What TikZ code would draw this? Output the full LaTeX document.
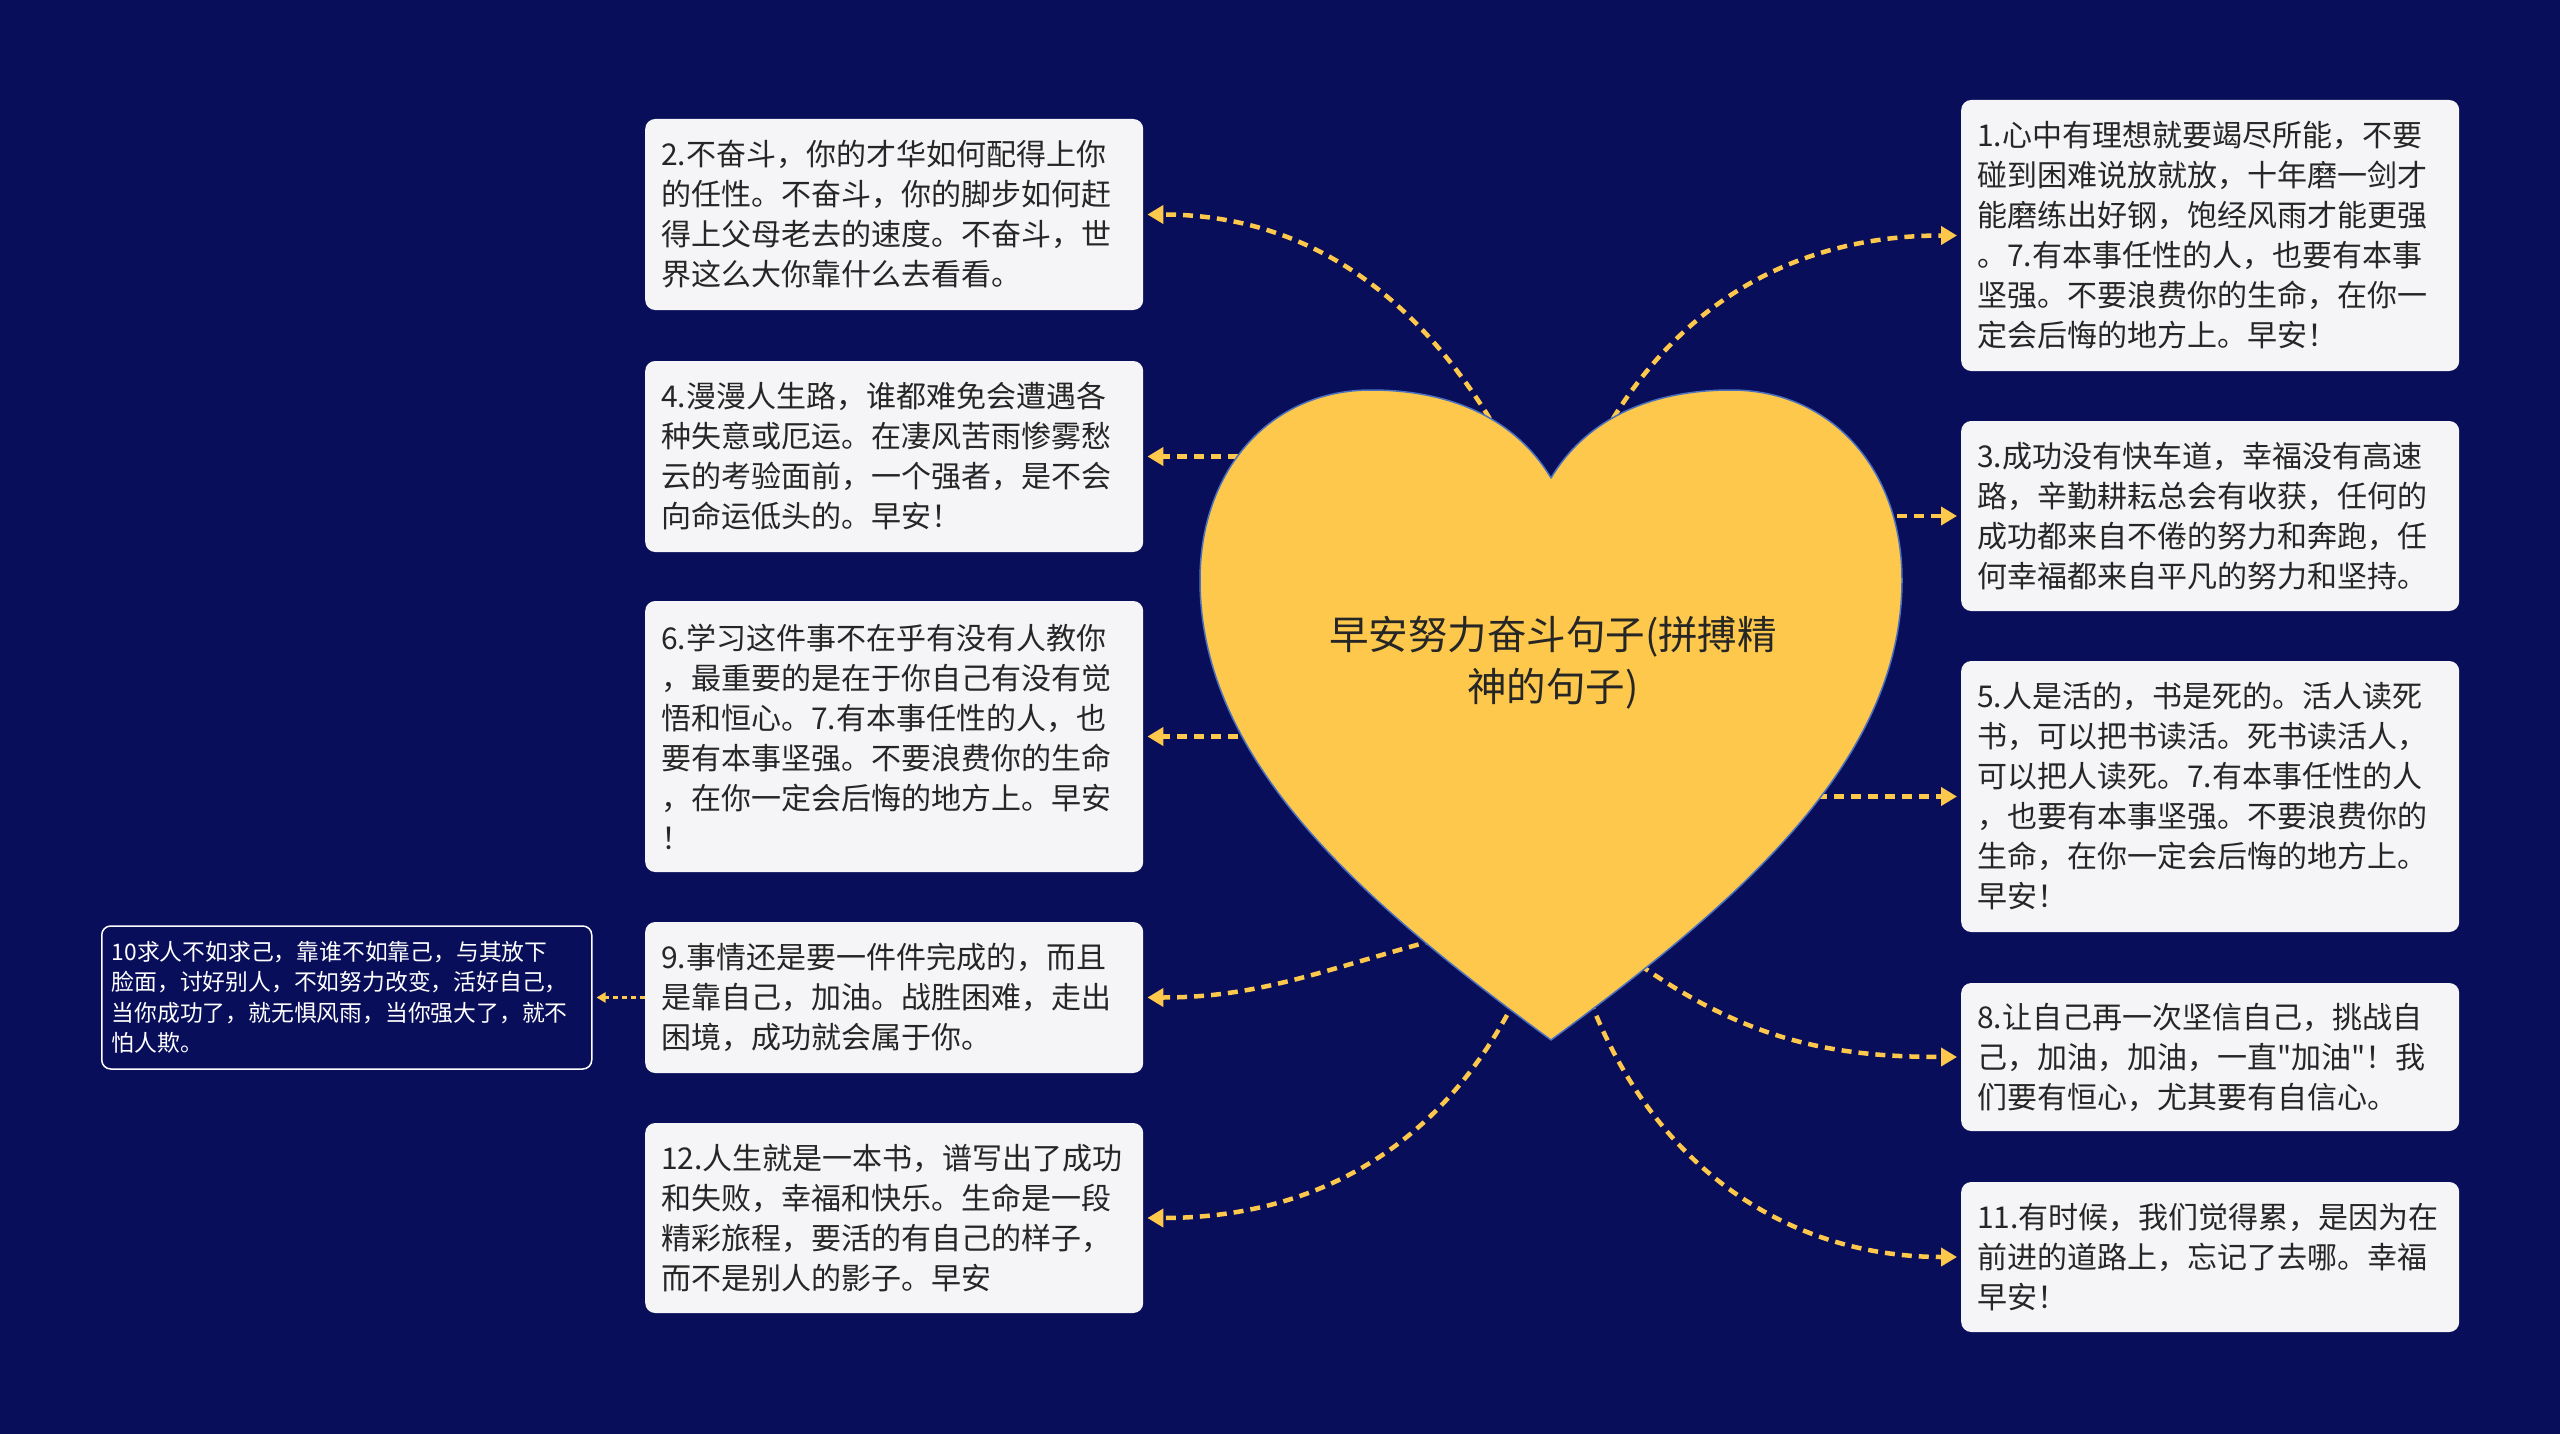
\documentclass[tikz,border=0pt]{standalone}
\usepackage{fontspec}
\setmainfont{Noto Sans CJK SC}[Ligatures=TeXOff]
\usepackage{xcolor}
\usepackage{tikz}
\usetikzlibrary{arrows.meta}
\definecolor{nightblue}{RGB}{9,14,90}
\definecolor{heartgold}{RGB}{253,200,75}
\definecolor{heartline}{RGB}{74,112,190}
\definecolor{cardgray}{RGB}{245,245,247}
\definecolor{inkgray}{RGB}{38,38,38}

\tikzset{
  quote/.style={rectangle, rounded corners=10pt, fill=cardgray, text=inkgray,
                text width=466pt, align=left, inner xsep=16pt, inner ysep=0pt,
                font=\fontsize{30}{40}\selectfont, anchor=west},
  sidequote/.style={rectangle, rounded corners=9pt, draw=white, line width=1.5pt,
                fill=nightblue, text=white, text width=470pt, align=left,
                inner xsep=10pt, inner ysep=0pt,
                font=\fontsize{22.8}{30.5}\selectfont, anchor=west},
  link/.style={draw=heartgold, line width=4.5pt, dash pattern=on 10pt off 7pt,
               -{Triangle[length=16pt,width=18pt]}, shorten >=4pt},
}

\begin{document}
\begin{tikzpicture}[x=1pt,y=1pt]
        \fill[nightblue] (0,0) rectangle (2560,-1434);

        % left column
        \node[quote, minimum height=191pt] (q2) at (645,-214.5) {2.不奋斗，你的才华如何配得上你\\的任性。不奋斗，你的脚步如何赶\\得上父母老去的速度。不奋斗，世\\界这么大你靠什么去看看。};
        \node[quote, minimum height=191pt] (q4) at (645,-456.5) {4.漫漫人生路，谁都难免会遭遇各\\种失意或厄运。在凄风苦雨惨雾愁\\云的考验面前，一个强者，是不会\\向命运低头的。早安！};
        \node[quote, minimum height=271pt] (q6) at (645,-736.5) {6.学习这件事不在乎有没有人教你\\，最重要的是在于你自己有没有觉\\悟和恒心。7.有本事任性的人，也\\要有本事坚强。不要浪费你的生命\\，在你一定会后悔的地方上。早安\\！};
        \node[quote, minimum height=151pt] (q9) at (645,-997.5) {9.事情还是要一件件完成的，而且\\是靠自己，加油。战胜困难，走出\\困境，成功就会属于你。};
        \node[quote, minimum height=190pt] (q12) at (645,-1218) {12.人生就是一本书，谱写出了成功\\和失败，幸福和快乐。生命是一段\\精彩旅程，要活的有自己的样子，\\而不是别人的影子。早安};
        \node[sidequote, minimum height=143pt] (q10) at (101,-997.5) {10求人不如求己，靠谁不如靠己，与其放下\\脸面，讨好别人，不如努力改变，活好自己，\\当你成功了，就无惧风雨，当你强大了，就不\\怕人欺。};

        % right column
        \node[quote, minimum height=271pt] (q1) at (1961,-235.5) {1.心中有理想就要竭尽所能，不要\\碰到困难说放就放，十年磨一剑才\\能磨练出好钢，饱经风雨才能更强\\。7.有本事任性的人，也要有本事\\坚强。不要浪费你的生命，在你一\\定会后悔的地方上。早安！};
        \node[quote, minimum height=190pt] (q3) at (1961,-516) {3.成功没有快车道，幸福没有高速\\路，辛勤耕耘总会有收获，任何的\\成功都来自不倦的努力和奔跑，任\\何幸福都来自平凡的努力和坚持。};
        \node[quote, minimum height=271pt] (q5) at (1961,-796.5) {5.人是活的，书是死的。活人读死\\书，可以把书读活。死书读活人，\\可以把人读死。7.有本事任性的人\\，也要有本事坚强。不要浪费你的\\生命，在你一定会后悔的地方上。\\早安！};
        \node[quote, minimum height=148pt] (q8) at (1961,-1057) {8.让自己再一次坚信自己，挑战自\\己，加油，加油，一直"加油"！我\\们要有恒心，尤其要有自信心。};
        \node[quote, minimum height=150pt] (q11) at (1961,-1257) {11.有时候，我们觉得累，是因为在\\前进的道路上，忘记了去哪。幸福\\早安！};

        % where the links leave the heart
        \coordinate (h1) at (1596,-448);
        \coordinate (h2) at (1507,-448);
        \coordinate (h3) at (1880,-516);
        \coordinate (h4) at (1255,-456.5);
        \coordinate (h5) at (1800,-796.5);
        \coordinate (h6) at (1255,-736.5);
        \coordinate (h8) at (1640,-965);
        \coordinate (h9) at (1435,-940);
        \coordinate (h11) at (1590,-1000);
        \coordinate (h12) at (1515,-1000);

        \draw[link] (h1) to[out=62,in=180] (q1.west);
        \draw[link] (h2) to[out=119,in=0] (q2.east);
        \draw[link] (h3) -- (q3.west);
        \draw[link] (h4) -- (q4.east);
        \draw[link] (h5) -- (q5.west);
        \draw[link] (h6) -- (q6.east);
        \draw[link] (h8) to[out=-35,in=180] (q8.west);
        \draw[link] (h9) to[out=195,in=0] (q9.east);
        \draw[link] (h11) to[out=-69,in=180] (q11.west);
        \draw[link] (h12) to[out=243,in=0] (q12.east);
        \draw[link, line width=2.5pt, dash pattern=on 5pt off 4pt,
              -{Triangle[length=9pt,width=10pt]}] (q9.west) -- (q10.east);

        % the heart
        \draw[heartline, line width=1.5pt, fill=heartgold, line join=round]
          (1551,-478) .. controls (1515,-418) and (1450,-390) .. (1371,-390)
          .. controls (1270,-390) and (1200,-470) .. (1200,-580)
          .. controls (1200,-760) and (1360,-900) .. (1551,-1040)
          .. controls (1742,-900) and (1902,-760) .. (1902,-580)
          .. controls (1902,-470) and (1832,-390) .. (1731,-390)
          .. controls (1652,-390) and (1587,-418) .. (1551,-478) -- cycle;
        \node[font=\fontsize{39.5}{52}\selectfont, text=inkgray, align=center]
          (root) at (1553,-663) {早安努力奋斗句子(拼搏精\\神的句子)};
\end{tikzpicture}
\end{document}
